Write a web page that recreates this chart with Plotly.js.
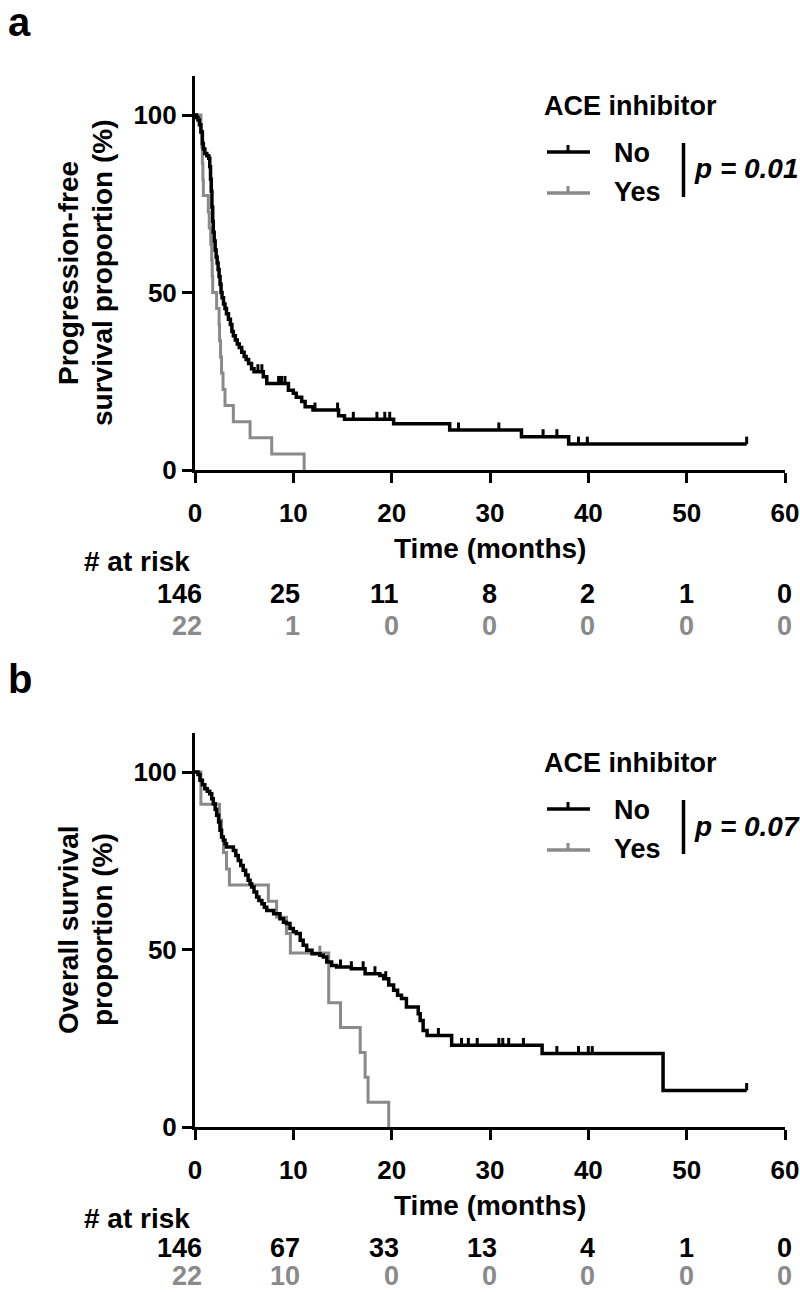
<!DOCTYPE html>
<html>
<head>
<meta charset="utf-8">
<script src="https://cdn.plot.ly/plotly-3.0.1.min.js"></script>
<style>html,body{margin:0;padding:0;background:#fff;}</style>
</head>
<body>
<div id="chart" style="width:800px;height:1292px;"></div>
<script>
// ---------- data ----------
const groups = ['No', 'Yes'];
const legendTitle = 'ACE inhibitor';
const pValues = ['0.01', '0.07'];
const timeTicks = [0, 10, 20, 30, 40, 50, 60];
const survTicks = [0, 50, 100];

// Panel a: progression-free survival
const pfsNoT = [0, 0.15, 0.3, 0.45, 0.6, 0.75, 0.85, 1.0, 1.2, 1.4, 1.5, 1.58, 1.65, 1.72, 1.8, 1.86, 1.95, 2.05, 2.15, 2.25, 2.35, 2.45, 2.55, 2.65, 2.75, 2.9, 3.05, 3.2, 3.4, 3.6, 3.75, 3.9, 4.1, 4.3, 4.5, 4.75, 5.0, 5.2, 5.45, 5.75, 6.0, 6.95, 7.3, 9.5, 10.0, 10.3, 10.85, 11.2, 12.0, 14.6, 15.2, 20.2, 25.9, 33.2, 38.0, 56.1];
const pfsNoS = [100, 99.3, 98.6, 97.3, 95.2, 92, 90.4, 89.2, 88.5, 87.8, 85.4, 82, 78.5, 74, 70, 67, 64.5, 62, 60, 58.3, 56.5, 54.5, 52.3, 50, 48.5, 46.8, 45.5, 44, 42.5, 41, 39, 37.8, 36.6, 35.5, 34.5, 33.2, 32, 31.1, 30, 28.5, 27.7, 26.3, 24.4, 22.5, 21.6, 20.5, 19.3, 17.8, 16.9, 15.3, 14.3, 13.0, 11.3, 9.4, 7.3, 7.3];
const pfsNoCens = [6.4, 6.8, 8.5, 8.8, 9.15, 12.2, 14.5, 16.1, 18.5, 19.3, 19.8, 26.8, 30.9, 35.4, 36.8, 39.0, 39.9, 56.1];
const pfsYesT = [0, 0.6, 0.7, 0.75, 0.8, 0.85, 1.35, 1.45, 1.6, 1.7, 1.75, 1.8, 2.2, 2.45, 2.5, 2.6, 2.7, 2.85, 3.05, 3.9, 5.6, 7.8, 11.1];
const pfsYesS = [100, 95.5, 90.9, 86.4, 81.8, 77.3, 72.7, 68.2, 63.6, 59.1, 54.5, 50, 45.5, 40.9, 36.4, 31.8, 27.3, 22.7, 18.2, 13.6, 9.1, 4.5, 0];
const pfsYesCens = [];
const pfsRiskNo = [146, 25, 11, 8, 2, 1, 0];
const pfsRiskYes = [22, 1, 0, 0, 0, 0, 0];

// Panel b: overall survival
const osNoT = [0, 0.3, 0.5, 0.75, 1.0, 1.25, 1.5, 1.7, 1.86, 2.05, 2.2, 2.4, 2.54, 2.7, 2.88, 3.05, 3.2, 3.9, 4.15, 4.4, 4.65, 4.9, 5.15, 5.4, 5.6, 5.76, 6.0, 6.27, 6.5, 6.8, 7.05, 7.3, 8.0, 8.64, 9.0, 9.3, 9.66, 10.0, 10.3, 10.7, 11.0, 11.36, 11.9, 12.7, 13.05, 13.4, 13.9, 14.4, 15.9, 17.3, 18.8, 19.2, 19.7, 20.2, 20.6, 21.0, 21.5, 22.7, 22.9, 23.2, 23.6, 26.1, 35.3, 47.6, 56.1];
const osNoS = [100, 99.3, 97.7, 96.4, 95.3, 94.6, 93.9, 92.5, 91.1, 89.5, 87.8, 85.9, 83.6, 81.7, 80.8, 79.8, 78.9, 77.9, 76.5, 75.1, 73.7, 72.3, 71.0, 69.5, 68.5, 67.6, 66.2, 64.8, 63.8, 62.9, 61.9, 61.0, 60.1, 58.7, 57.7, 57.3, 55.9, 55.0, 54.5, 52.6, 51.2, 49.8, 48.8, 48.4, 47.9, 46.5, 45.5, 45.1, 44.6, 43.2, 42.7, 41.8, 40.0, 38.5, 37.1, 36.2, 33.8, 31.9, 30.0, 27.2, 25.8, 23.0, 20.7, 10.3, 10.3];
const osNoCens = [14.8, 15.9, 17.1, 18.3, 19.4, 24.75, 27.1, 27.8, 28.7, 30.9, 31.3, 31.9, 33.4, 36.8, 39.0, 40.0, 40.4, 56.1];
const osYesT = [0, 0.6, 2.5, 2.7, 2.9, 3.2, 3.5, 7.46, 8.3, 9.3, 9.7, 13.6, 14.8, 16.8, 17.3, 17.6, 19.7];
const osYesS = [100, 90.9, 86.4, 81.8, 77.3, 72.7, 68.2, 63.6, 59.1, 54.5, 49, 35, 28, 21, 14, 7, 0];
const osYesCens = [12.7];
const osRiskNo = [146, 67, 33, 13, 4, 1, 0];
const osRiskYes = [22, 10, 0, 0, 0, 0, 0];

// ---------- style ----------
const W = 800, H = 1292;
const FONT = 'Liberation Sans, Arial, Helvetica, sans-serif';
const BLACK = '#000000', GREY = '#8a8a8a';
const TICK_H = 2.1; // censor tick height, in % units
const px = x => x / W;
const py = y => 1 - y / H;

function stepAt(ts, ss, t) {
  let v = ss[0];
  for (let i = 0; i < ts.length; i++) { if (ts[i] <= t) v = ss[i]; }
  return v;
}

function curve(ts, ss, color, width, xa, ya) {
  return { x: ts, y: ss, type: 'scatter', mode: 'lines', xaxis: xa, yaxis: ya,
    line: { shape: 'hv', color: color, width: width }, hoverinfo: 'skip', showlegend: false };
}
function censor(cens, ts, ss, color, xa, ya) {
  return { x: cens, y: cens.map(t => stepAt(ts, ss, t)), type: 'scatter', mode: 'markers',
    xaxis: xa, yaxis: ya, marker: { size: 1, color: 'rgba(0,0,0,0)' },
    error_y: { type: 'data', symmetric: false, array: cens.map(() => TICK_H),
      arrayminus: cens.map(() => 0), thickness: 3, width: 0, color: color },
    hoverinfo: 'skip', showlegend: false };
}

const data = [
  curve(pfsYesT, pfsYesS, GREY, 3, 'x', 'y'),
  censor(pfsYesCens, pfsYesT, pfsYesS, GREY, 'x', 'y'),
  curve(pfsNoT, pfsNoS, BLACK, 3.5, 'x', 'y'),
  censor(pfsNoCens, pfsNoT, pfsNoS, BLACK, 'x', 'y'),
  curve(osYesT, osYesS, GREY, 3, 'x2', 'y2'),
  censor(osYesCens, osYesT, osYesS, GREY, 'x2', 'y2'),
  curve(osNoT, osNoS, BLACK, 3.5, 'x2', 'y2'),
  censor(osNoCens, osNoT, osNoS, BLACK, 'x2', 'y2')
];

function xAxis(anchor) {
  return { domain: [px(195), px(785)], range: [0, 60], anchor: anchor,
    tickmode: 'array', tickvals: timeTicks, ticktext: timeTicks.map(String),
    ticks: 'outside', ticklen: 10, tickwidth: 3, tickcolor: BLACK,
    showline: true, linewidth: 3, linecolor: BLACK, showgrid: false, zeroline: false,
    ticklabelstandoff: 8,
    tickfont: { family: FONT, size: 26, color: BLACK, weight: 700 }, fixedrange: true };
}
function yAxis(anchor, top, bottom) {
  return { domain: [py(bottom), py(top)], range: [0, 111], anchor: anchor,
    tickmode: 'array', tickvals: survTicks, ticktext: survTicks.map(String),
    ticks: 'outside', ticklen: 10, tickwidth: 3, tickcolor: BLACK,
    showline: true, linewidth: 3, linecolor: BLACK, showgrid: false, zeroline: false,
    tickfont: { family: FONT, size: 26, color: BLACK, weight: 700 }, fixedrange: true };
}

const annotations = [];
const shapes = [];
function txt(text, x, y, o) {
  o = o || {};
  annotations.push(Object.assign({ text: text, xref: 'paper', yref: 'paper', x: px(x), y: py(y),
    xanchor: 'left', yanchor: 'middle', showarrow: false,
    font: { family: FONT, size: o.size || 27, color: o.color || BLACK, weight: 700, style: o.style || 'normal' } },
    o.extra || {}));
}
function hline(x0, x1, y, color, w) {
  shapes.push({ type: 'line', xref: 'paper', yref: 'paper', x0: px(x0), x1: px(x1), y0: py(y), y1: py(y), line: { color: color, width: w } });
}
function vline(x, y0, y1, color, w) {
  shapes.push({ type: 'line', xref: 'paper', yref: 'paper', x0: px(x), x1: px(x), y0: py(y0), y1: py(y1), line: { color: color, width: w } });
}

function panel(letter, dy, xref, titleLines, riskNo, riskYes, p, rowNoY, rowYesY) {
  txt(letter, 6, 22 + dy, { size: 40 });
  // y axis title (two rotated lines)
  titleLines.forEach((t, i) => {
    annotations.push({ text: t, xref: 'paper', yref: 'paper', x: px(i === 0 ? 68 : 102), y: py(273 + dy),
      xanchor: 'center', yanchor: 'middle', textangle: -90, showarrow: false,
      font: { family: FONT, size: 28, color: BLACK, weight: 700 } });
  });
  // x axis title
  annotations.push({ text: 'Time (months)', xref: 'paper', yref: 'paper', x: px(490), y: py(548 + dy),
    xanchor: 'center', yanchor: 'middle', showarrow: false,
    font: { family: FONT, size: 28, color: BLACK, weight: 700 } });
  // at-risk table
  txt('# at risk', 82, 561 + dy, { size: 28 });
  timeTicks.forEach((t, i) => {
    annotations.push({ text: String(riskNo[i]), xref: xref, yref: 'paper', x: t, y: py(rowNoY),
      xanchor: 'right', yanchor: 'middle', xshift: 9, showarrow: false, height: 28,
      font: { family: FONT, size: 27, color: BLACK, weight: 700 } });
    annotations.push({ text: String(riskYes[i]), xref: xref, yref: 'paper', x: t, y: py(rowYesY),
      xanchor: 'right', yanchor: 'middle', xshift: 9, showarrow: false, height: 28,
      font: { family: FONT, size: 27, color: GREY, weight: 700 } });
  });
  // legend
  txt(legendTitle, 542, 106 + dy, { size: 27 });
  hline(547, 590, 152 + dy, BLACK, 3.5);
  vline(568, 152 + dy, 145 + dy, BLACK, 3);
  txt(groups[0], 612, 153 + dy, { size: 27 });
  hline(547, 590, 193 + dy, GREY, 3.5);
  vline(568, 193 + dy, 186 + dy, GREY, 3);
  txt(groups[1], 612, 192 + dy, { size: 27 });
  vline(683.5, 143 + dy, 197 + dy, BLACK, 3.5);
  txt('p = ' + p, 692, 169 + dy, { size: 28, style: 'italic' });
}

panel('a', 0, 'x', ['Progression-free', 'survival proportion (%)'], pfsRiskNo, pfsRiskYes, pValues[0], 594, 626);
panel('b', 657, 'x2', ['Overall survival', 'proportion (%)'], osRiskNo, osRiskYes, pValues[1], 1248, 1276);

const layout = {
  width: W, height: H, margin: { l: 0, r: 0, t: 0, b: 0 },
  paper_bgcolor: '#ffffff', plot_bgcolor: 'rgba(0,0,0,0)', showlegend: false,
  xaxis: xAxis('y'), yaxis: yAxis('x', 76, 470),
  xaxis2: xAxis('y2'), yaxis2: yAxis('x2', 733, 1127),
  annotations: annotations, shapes: shapes
};

Plotly.newPlot('chart', data, layout, { staticPlot: true, displayModeBar: false });
</script>
</body>
</html>
